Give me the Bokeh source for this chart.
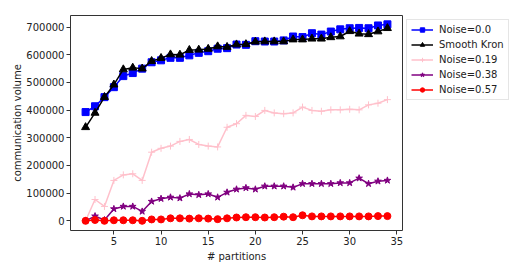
from bokeh.plotting import figure
from bokeh.models import Legend, LegendItem, Range1d, FixedTicker, NumeralTickFormatter
from bokeh.embed import file_html
from bokeh.resources import INLINE

partitions = list(range(2, 35))
noise_00 = [393000, 414000, 447000, 483000, 523000, 534000, 550000, 573000, 580000, 589000,
            589000, 598000, 607000, 613000, 622000, 624000, 637000, 636000, 649000, 648000,
            648000, 652000, 666000, 664000, 678000, 673000, 684000, 692000, 696000, 697000,
            696000, 706000, 710000]
smooth_kron = [338000, 390000, 447000, 492000, 547000, 553000, 550000, 577000, 588000, 601000,
               600000, 617000, 618000, 621000, 630000, 628000, 637000, 638000, 647000, 648000,
               648000, 648000, 655000, 655000, 658000, 658000, 663000, 666000, 685000, 676000,
               674000, 684000, 696000]
noise_019 = [0, 77000, 52000, 146000, 166000, 170000, 146000, 248000, 262000, 270000,
             287000, 294000, 276000, 270000, 267000, 338000, 351000, 381000, 377000, 399000,
             390000, 387000, 390000, 411000, 399000, 396000, 401000, 401000, 403000, 401000,
             419000, 425000, 438000]
noise_038 = [0, 17000, 3000, 43000, 52000, 52000, 34000, 70000, 80000, 85000,
             82000, 97000, 94000, 97000, 85000, 103000, 114000, 119000, 114000, 125000,
             125000, 125000, 121000, 134000, 134000, 134000, 134000, 137000, 137000, 154000,
             134000, 143000, 146000]
noise_057 = [0, 3000, 0, 2000, 2000, 2000, 0, 5000, 5000, 9000,
             9000, 8000, 9000, 8000, 6000, 9000, 12000, 13000, 13000, 12000,
             13000, 15000, 13000, 20000, 16000, 16000, 16000, 16000, 16000, 16000,
             16000, 17000, 17000]
series_labels = ["Noise=0.0", "Smooth Kron", "Noise=0.19", "Noise=0.38", "Noise=0.57"]
x_ticks = [5, 10, 15, 20, 25, 30, 35]
y_ticks = [0, 100000, 200000, 300000, 400000, 500000, 600000, 700000]

FONT = "DejaVu Sans"
BL, BT, BB = 70, 15, 32

p = figure(frame_width=332, frame_height=215, output_backend="svg", toolbar_location=None,
           x_range=Range1d(0.4, 35.6), y_range=Range1d(-35000, 742000),
           min_border_left=BL, min_border_right=0, min_border_top=BT, min_border_bottom=BB)
p.xgrid.visible = False
p.ygrid.visible = False
p.outline_line_color = "#333333"
p.outline_line_width = 1
p.background_fill_color = "white"
p.border_fill_color = "white"

for ax in (p.xaxis[0], p.yaxis[0]):
    ax.axis_line_color = None
    ax.major_tick_line_color = "#333333"
    ax.major_tick_out = 4
    ax.major_tick_in = 0
    ax.minor_tick_line_color = None
    ax.major_label_text_font = FONT
    ax.major_label_text_font_size = "10px"
    ax.major_label_text_color = "#222222"
    ax.axis_label_text_font = FONT
    ax.axis_label_text_font_size = "10px"
    ax.axis_label_text_font_style = "normal"
    ax.axis_label_text_color = "#222222"
    ax.major_label_standoff = 2

p.xaxis[0].ticker = FixedTicker(ticks=x_ticks)
p.yaxis[0].ticker = FixedTicker(ticks=y_ticks)
p.yaxis[0].formatter = NumeralTickFormatter(format="0")
p.xaxis[0].axis_label = "# partitions"
p.yaxis[0].axis_label = "communication volume"
p.xaxis[0].axis_label_standoff = 3
p.yaxis[0].axis_label_standoff = 0

specs = [
    (noise_00, "#0000ff", "square", 7),
    (smooth_kron, "#000000", "triangle", 8),
    (noise_019, "#ffc0cb", "cross", 7),
    (noise_038, "#800080", "star", 7),
    (noise_057, "#ff0000", "circle", 7),
]

items = []
for (vals, color, marker, size), label in zip(specs, series_labels):
    ln = p.line(partitions, vals, line_color=color, line_width=1.5)
    mk = p.scatter(partitions, vals, marker=marker, size=size,
                   fill_color=color, line_color=color, line_width=1)
    items.append(LegendItem(label=label, renderers=[ln, mk]))

legend = Legend(items=items, location="top_left",
                label_text_font=FONT, label_text_font_size="10px", label_text_color="#222222",
                glyph_width=22, glyph_height=11, label_height=11, spacing=4,
                padding=4, margin=4, label_standoff=6,
                border_line_color="#cccccc", border_line_width=1,
                background_fill_color="white", background_fill_alpha=1.0)
p.add_layout(legend, "right")

open("out.html", "w").write(file_html(p, INLINE))
